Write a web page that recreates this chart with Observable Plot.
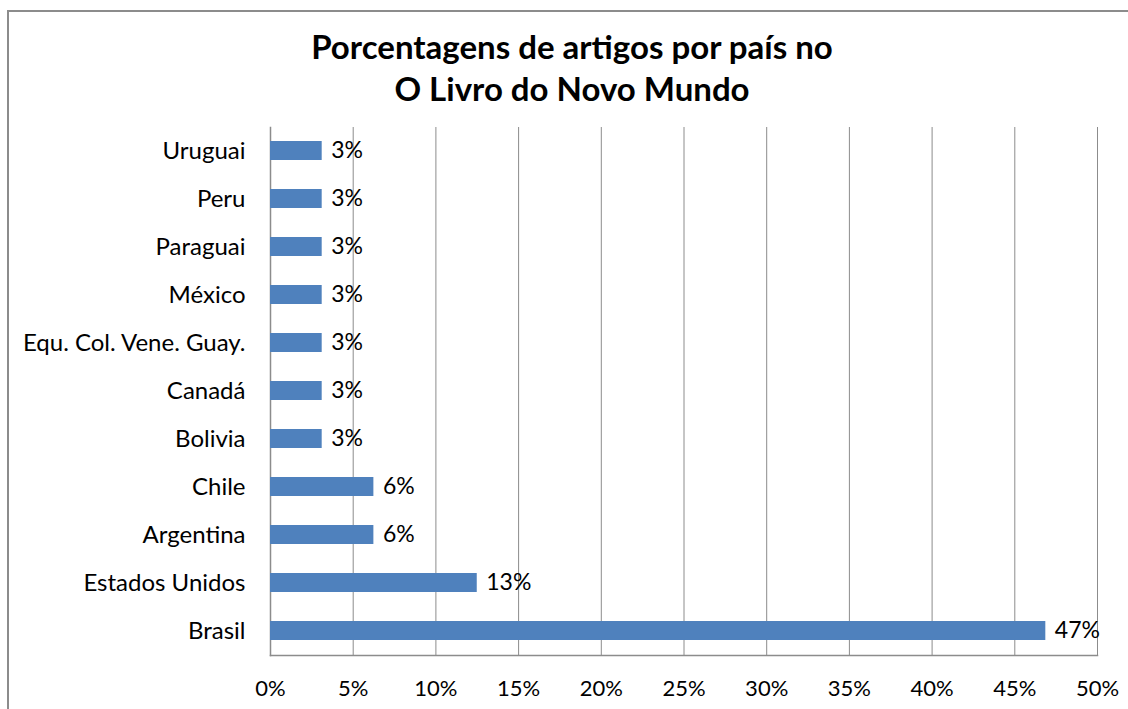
<!DOCTYPE html>
<html>
<head>
<meta charset="utf-8">
<script src="https://cdn.jsdelivr.net/npm/d3@7"></script>
<script src="https://cdn.jsdelivr.net/npm/@observablehq/plot@0.6"></script>
<style>
  html, body { margin: 0; padding: 0; background: #fff; }
  #wrap { position: relative; width: 1128px; height: 709px; overflow: hidden; font-family: Lato, "Open Sans", sans-serif; }
  #border { position: absolute; left: 7px; top: 10px; width: 1200px; height: 800px; border-left: 2px solid #8c8c8c; border-top: 2px solid #8c8c8c; box-sizing: border-box; }
  #title { position: absolute; left: 0; top: 25px; width: 1144px; text-align: center; font-weight: bold; font-size: 33px; line-height: 42px; color: #000; }
  #chart { position: absolute; left: 0; top: 110px; }
</style>
</head>
<body>
<div id="wrap">
  <div id="border"></div>
  <div id="title">Porcentagens de artigos por país no<br>O Livro do Novo Mundo</div>
  <div id="chart"></div>
</div>
<script>
const countries = ["Uruguai", "Peru", "Paraguai", "México", "Equ. Col. Vene. Guay.", "Canadá", "Bolivia", "Chile", "Argentina", "Estados Unidos", "Brasil"];
const values = [3.125, 3.125, 3.125, 3.125, 3.125, 3.125, 3.125, 6.25, 6.25, 12.5, 46.875];
const valueLabels = ["3%", "3%", "3%", "3%", "3%", "3%", "3%", "6%", "6%", "13%", "47%"];
const xTicks = [0, 5, 10, 15, 20, 25, 30, 35, 40, 45, 50];

const data = countries.map((c, i) => ({country: c, value: values[i], label: valueLabels[i]}));

const plot = Plot.plot({
  width: 1128,
  height: 599,
  marginTop: 17,
  marginBottom: 54,
  marginLeft: 270,
  marginRight: 31,
  style: {fontFamily: "Lato, 'Open Sans', sans-serif", fontSize: "22px", color: "#000", background: "transparent"},
  x: {domain: [0, 50], label: null},
  y: {domain: countries, paddingInner: 0.6, paddingOuter: 0.3, label: null},
  marks: [
    Plot.gridX(xTicks, {stroke: "#8c8c8c", strokeOpacity: 1, strokeWidth: 1}),
    Plot.frame({anchor: "bottom", stroke: "#8c8c8c", strokeWidth: 1.5}),
    Plot.frame({anchor: "left", stroke: "#8c8c8c", strokeWidth: 1.5}),
    Plot.axisX(xTicks, {tickFormat: d => d + "%", tickSize: 0, tickPadding: 25, fontSize: 22, fill: "#000", label: null}),
    Plot.axisY({tickSize: 0, tickPadding: 25, fontSize: 24, fill: "#000", label: null}),
    Plot.barX(data, {x: "value", y: "country", fill: "#4F81BD"}),
    Plot.text(data, {x: "value", y: "country", text: "label", textAnchor: "start", dx: 9, fontSize: 23, fill: "#000"})
  ]
});
document.getElementById("chart").appendChild(plot);
</script>
</body>
</html>
